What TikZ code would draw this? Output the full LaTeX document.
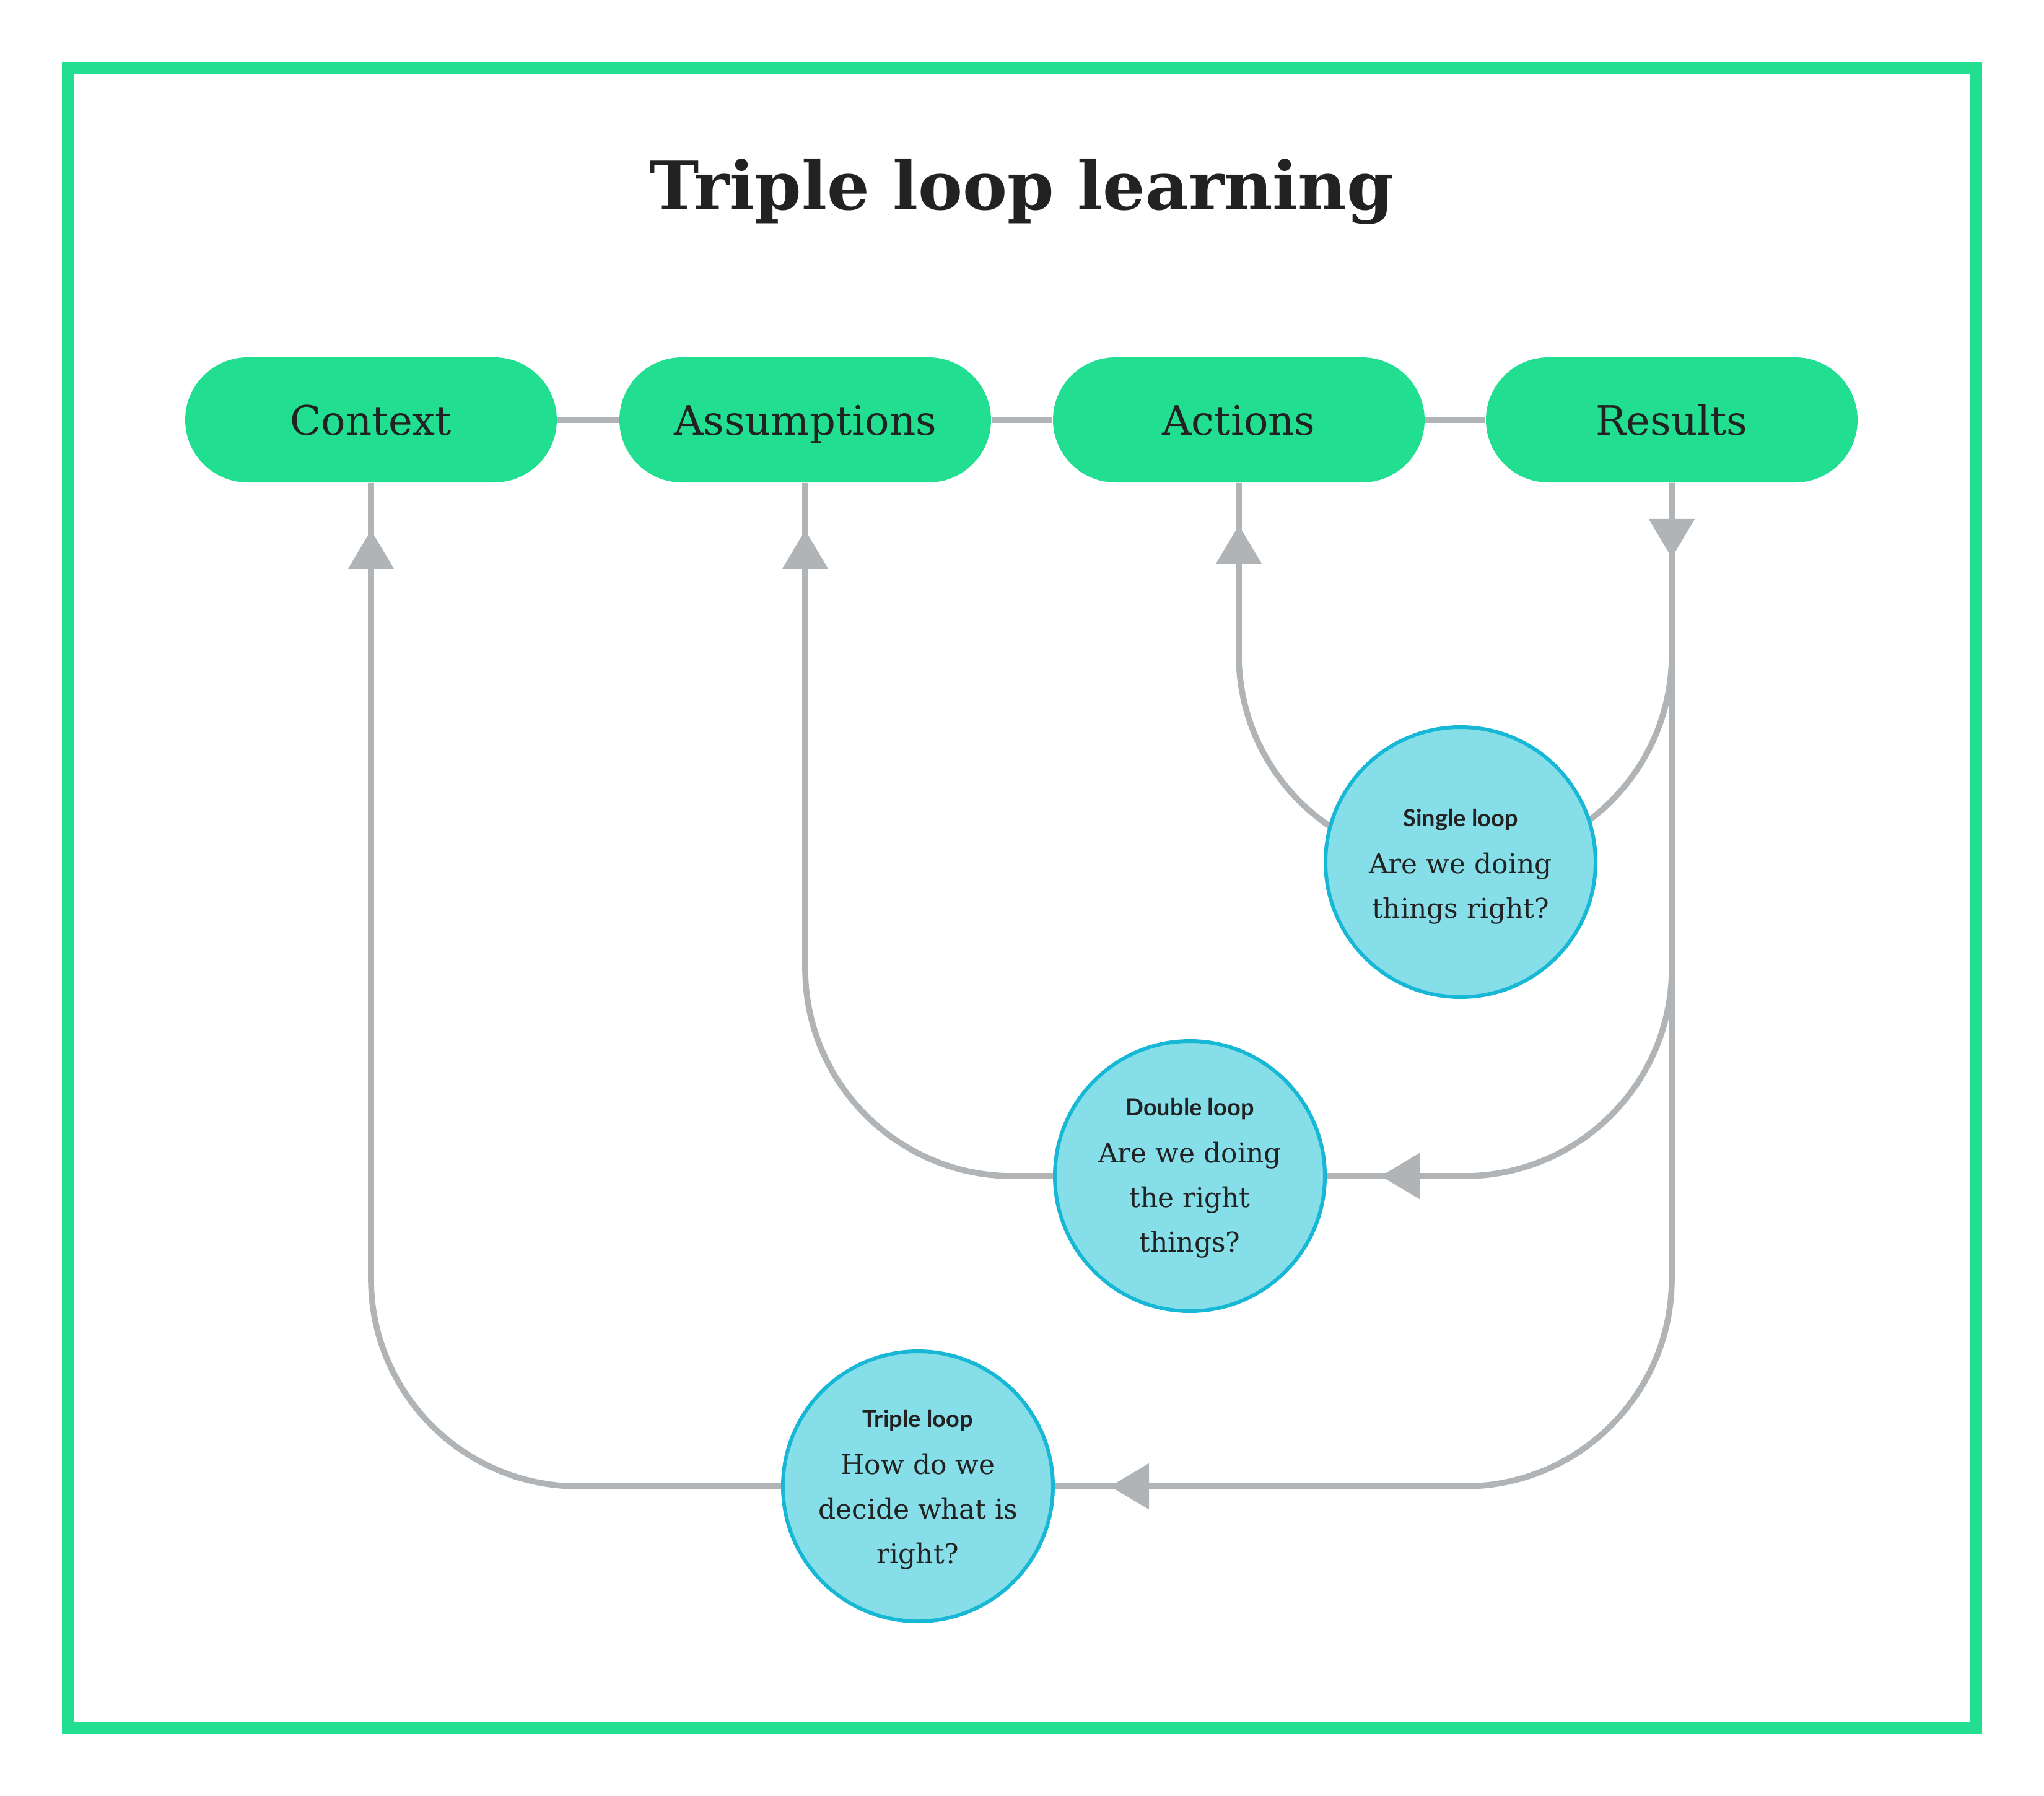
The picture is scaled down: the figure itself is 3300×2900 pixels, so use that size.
\documentclass[tikz,border=0pt]{standalone}
\usepackage{fontspec}
\setmainfont{DejaVu Serif}
\newfontfamily\labelfamily{Lato}
\usetikzlibrary{arrows.meta,decorations.markings}
\definecolor{frameGreen}{HTML}{21DE91}
\definecolor{lineGray}{HTML}{B1B4B6}
\definecolor{circFill}{HTML}{86DEE9}
\definecolor{circEdge}{HTML}{17B8D6}
\definecolor{ink}{HTML}{222222}
\pgfdeclarelayer{bg}
\pgfsetlayers{bg,main}
\newcommand\looplabel{\labelfamily\bfseries\fontsize{9.5}{18}\selectfont}
\begin{document}
\begin{tikzpicture}[x=0.25pt,y=-0.25pt,
  pill/.style={rectangle, rounded corners=25.25pt, fill=frameGreen, minimum width=150pt,
    minimum height=50.5pt, inner sep=0pt, text=ink, font=\fontsize{16.4}{20}\selectfont,
    text height=12pt, text depth=0pt},
  loopc/.style={circle, fill=circFill, draw=circEdge, line width=1.5pt, minimum size=109pt,
    inner sep=0pt},
  looptext/.style={anchor=base, align=center, inner sep=0pt, text=ink,
    font=\fontsize{11}{18}\selectfont},
  conn/.style={draw=lineGray, line width=2.4pt, rounded corners=83.75pt},
  tipmark/.style={postaction={decorate, decoration={markings,
    mark=at position #1 with {\arrow{Triangle[length=15.75pt,width=18pt]}}}}},
]
\useasboundingbox (0,0) rectangle (3300,2900);
\draw[frameGreen, line width=5pt] (110,110) rectangle (3190,2790);

\node[anchor=base, inner sep=0pt, font=\bfseries\fontsize{27}{34}\selectfont, text=ink] (title) at (1649,339) {Triple loop learning};

\node[pill] (context) at (599,678) {Context};
\node[pill] (assumptions) at (1300,678) {Assumptions};
\node[pill] (actions) at (2000,678) {Actions};
\node[pill] (results) at (2699,678) {Results};

\node[loopc] (single) at (2358,1392) {};
\node[loopc] (double) at (1921,1899) {};
\node[loopc] (triple) at (1482,2400) {};

\node[looptext] (singletext) at ([yshift=-22.5pt]single.center) {{\looplabel Single loop}\\[1pt]Are we doing\\things right?};
\node[looptext] (doubletext) at ([yshift=-30.5pt]double.center) {{\looplabel Double loop}\\[1pt]Are we doing\\the right\\things?};
\node[looptext] (tripletext) at ([yshift=-31pt]triple.center) {{\looplabel Triple loop}\\[1pt]How do we\\decide what is\\right?};

\begin{pgfonlayer}{bg}
\draw[conn] (context) -- (assumptions);
\draw[conn] (assumptions) -- (actions);
\draw[conn] (actions) -- (results);
\draw[conn, tipmark=-19pt] (triple.center) -| (context.south);
\draw[conn, tipmark=-19pt] (double.center) -| (assumptions.south);
\draw[conn, tipmark=-17pt] (single.center) -| (actions.south);
\draw[conn, tipmark=30.25pt] (results.south) |- (single.center);
\draw[conn, tipmark=-77pt] (results.south) |- (double.center);
\draw[conn, tipmark=-77.5pt] (results.south) |- (triple.center);
\end{pgfonlayer}
\end{tikzpicture}
\end{document}
